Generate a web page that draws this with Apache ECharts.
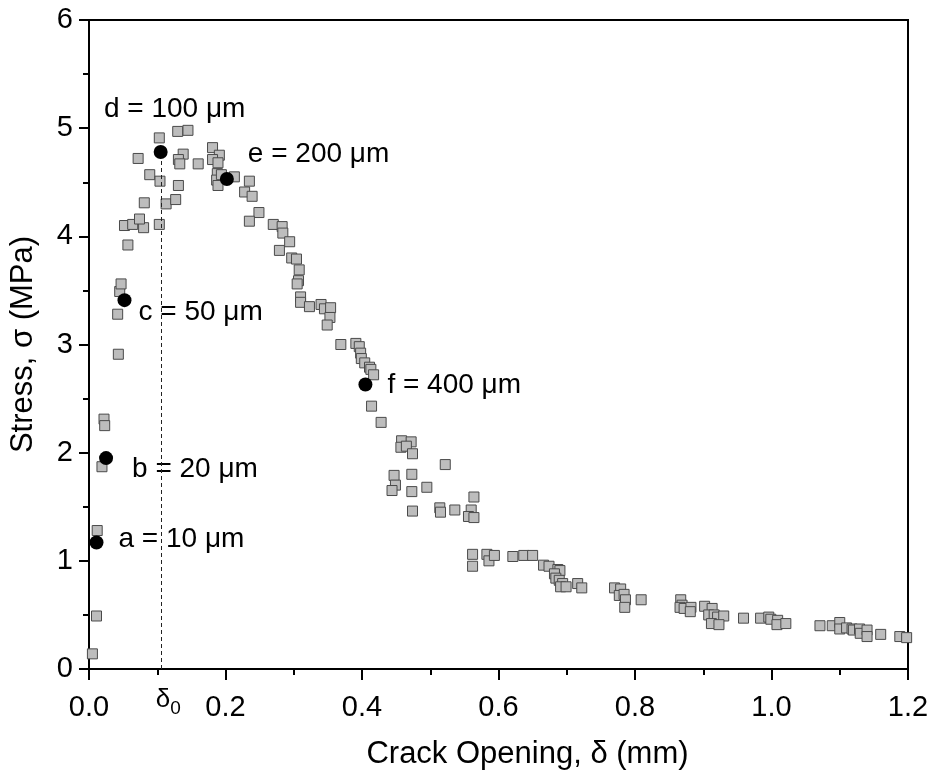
<!DOCTYPE html>
<html>
<head>
<meta charset="utf-8">
<title>Stress vs Crack Opening</title>
<script src="https://cdn.jsdelivr.net/npm/echarts@6/dist/echarts.min.js"></script>
<style>
  html, body { margin: 0; padding: 0; background: #fff; }
  #chart { width: 934px; height: 778px; }
</style>
</head>
<body>
<div id="chart"></div>
<script>
// Measured stress–crack opening response (grey squares)
const openingMm = [
  0.005, 0.011, 0.012, 0.019, 0.022, 0.023, 0.043, 0.042, 0.045, 0.047,
  0.057, 0.052, 0.064, 0.080, 0.074, 0.103, 0.081, 0.113, 0.127, 0.089,
  0.104, 0.131, 0.072, 0.103, 0.130, 0.145, 0.138, 0.131, 0.133, 0.160,
  0.181, 0.191, 0.181, 0.189, 0.188, 0.187, 0.189, 0.194, 0.213, 0.235,
  0.228, 0.239, 0.249, 0.235, 0.270, 0.283, 0.284, 0.294, 0.279, 0.297,
  0.304, 0.308, 0.307, 0.305, 0.310, 0.310, 0.323, 0.340, 0.345, 0.354,
  0.353, 0.349, 0.369, 0.391, 0.396, 0.398, 0.399, 0.404, 0.411, 0.413,
  0.417, 0.414, 0.428, 0.458, 0.472, 0.457, 0.465, 0.474, 0.522, 0.447,
  0.473, 0.449, 0.444, 0.473, 0.495, 0.564, 0.474, 0.514, 0.515, 0.536,
  0.560, 0.556, 0.564, 0.562, 0.562, 0.583, 0.586, 0.594, 0.621, 0.637,
  0.650, 0.666, 0.674, 0.687, 0.690, 0.682, 0.684, 0.689, 0.694, 0.691,
  0.699, 0.716, 0.722, 0.770, 0.779, 0.777, 0.784, 0.786, 0.785, 0.809,
  0.867, 0.869, 0.866, 0.872, 0.882, 0.881, 0.902, 0.913, 0.908, 0.916,
  0.921, 0.930, 0.912, 0.923, 0.959, 0.984, 0.996, 0.999, 1.009, 1.008,
  1.021, 1.071, 1.089, 1.100, 1.100, 1.110, 1.118, 1.120, 1.129, 1.130,
  1.140, 1.140, 1.160, 1.188, 1.198
];
const stressMPa = [
  0.14, 0.49, 1.28, 1.87, 2.31, 2.25, 2.91, 3.28, 3.49, 3.56,
  3.92, 4.10, 4.11, 4.08, 4.16, 4.11, 4.31, 4.30, 4.34, 4.57,
  4.51, 4.47, 4.72, 4.91, 4.97, 4.98, 4.76, 4.71, 4.67, 4.67,
  4.82, 4.75, 4.71, 4.68, 4.58, 4.52, 4.47, 4.57, 4.55, 4.51,
  4.41, 4.37, 4.22, 4.14, 4.11, 4.09, 4.03, 3.95, 3.87, 3.80,
  3.79, 3.69, 3.59, 3.56, 3.44, 3.39, 3.35, 3.37, 3.33, 3.34,
  3.25, 3.18, 3.00, 3.01, 2.98, 2.92, 2.87, 2.83, 2.79, 2.77,
  2.72, 2.43, 2.28, 2.11, 2.10, 2.05, 2.06, 1.99, 1.89, 1.79,
  1.80, 1.70, 1.65, 1.64, 1.68, 1.59, 1.46, 1.49, 1.45, 1.47,
  1.47, 1.41, 1.40, 1.06, 0.95, 1.06, 1.00, 1.05, 1.04, 1.05,
  1.05, 0.96, 0.95, 0.92, 0.91, 0.88, 0.84, 0.82, 0.79, 0.76,
  0.76, 0.79, 0.75, 0.75, 0.74, 0.68, 0.69, 0.64, 0.57, 0.64,
  0.64, 0.59, 0.57, 0.56, 0.57, 0.53, 0.58, 0.56, 0.50, 0.50,
  0.48, 0.49, 0.42, 0.41, 0.47, 0.47, 0.48, 0.46, 0.45, 0.41,
  0.42, 0.40, 0.40, 0.43, 0.37, 0.38, 0.37, 0.36, 0.37, 0.33,
  0.36, 0.30, 0.32, 0.30, 0.29
];

// Selected states a–f (black dots)
const stateNames = ['a = 10 \u03bcm', 'b = 20 \u03bcm', 'c = 50 \u03bcm',
                    'd = 100 \u03bcm', 'e = 200 \u03bcm', 'f = 400 \u03bcm'];
const stateOpening = [0.011, 0.025, 0.052, 0.105, 0.202, 0.405];
const stateStress  = [1.17, 1.95, 3.41, 4.78, 4.53, 2.63];

// Opening at peak stress, δ0
const delta0 = 0.106;

const X_TICKS = { min: 0, max: 1.2, interval: 0.2 };
const Y_TICKS = { min: 0, max: 6, interval: 1 };

const FONT = "'Liberation Sans', Arial, Helvetica, sans-serif";

// label offsets (px) relative to each dot's centre
const labelOffsets = [[22, -3], [26, 11], [14, 12], [14, -43], [21, -25], [22, 1]];

const chart = echarts.init(document.getElementById('chart'), null, { renderer: 'canvas' });

const squares = openingMm.map((x, i) => [x, stressMPa[i]]);
const states = stateOpening.map((x, i) => ({
  value: [x, stateStress[i]],
  label: {
    show: true,
    formatter: stateNames[i],
    position: 'inside',
    align: i === 3 ? 'center' : 'left',
    verticalAlign: 'middle',
    offset: labelOffsets[i],
    fontFamily: FONT,
    fontSize: 28,
    color: '#000',
    textBorderWidth: 0
  }
}));

chart.setOption({
  animation: false,
  backgroundColor: '#fff',
  grid: {
    left: 88, right: 26, top: 20, bottom: 109,
    show: true, borderColor: '#000', borderWidth: 2, backgroundColor: 'transparent'
  },
  xAxis: {
    type: 'value',
    min: X_TICKS.min, max: X_TICKS.max, interval: X_TICKS.interval,
    name: 'Crack Opening, \u03b4 (mm)',
    nameLocation: 'middle',
    nameGap: 70,
    nameTextStyle: { fontFamily: FONT, fontSize: 31, color: '#000', padding: [0, 0, 0, 58] },
    axisLine: { show: true, onZero: false, lineStyle: { color: '#000', width: 2 } },
    axisTick: { show: true, inside: false, length: 11, lineStyle: { color: '#000', width: 2 } },
    minorTick: { show: true, splitNumber: 2, length: 6, lineStyle: { color: '#000', width: 2 } },
    axisLabel: {
      margin: 24, fontFamily: FONT, fontSize: 29, color: '#000',
      formatter: v => v.toFixed(1)
    },
    splitLine: { show: false },
    minorSplitLine: { show: false }
  },
  yAxis: {
    type: 'value',
    min: Y_TICKS.min, max: Y_TICKS.max, interval: Y_TICKS.interval,
    name: 'Stress, \u03c3 (MPa)',
    nameLocation: 'middle',
    nameGap: 50,
    nameTextStyle: { fontFamily: FONT, fontSize: 31, color: '#000' },
    axisLine: { show: true, onZero: false, lineStyle: { color: '#000', width: 2 } },
    axisTick: { show: true, inside: false, length: 10, lineStyle: { color: '#000', width: 2 } },
    minorTick: { show: true, splitNumber: 2, length: 6, lineStyle: { color: '#000', width: 2 } },
    axisLabel: { margin: 16, fontFamily: FONT, fontSize: 29, color: '#000' },
    splitLine: { show: false },
    minorSplitLine: { show: false }
  },
  series: [
    {
      name: 'measured',
      type: 'scatter',
      symbol: 'rect',
      symbolSize: 10,
      data: squares,
      itemStyle: { color: '#bdbdbd', borderColor: '#4a4a4a', borderWidth: 1, opacity: 1 },
      z: 2
    },
    {
      name: 'states',
      type: 'scatter',
      symbol: 'circle',
      symbolSize: 14,
      data: states,
      itemStyle: { color: '#000', opacity: 1 },
      z: 3,
      markLine: {
        silent: true,
        symbol: ['none', 'none'],
        lineStyle: { type: [4, 3], color: '#222', width: 1, opacity: 1 },
        label: {
          show: true,
          position: 'start',
          distance: 12,
          padding: [0, 0, 0, 14],
          formatter: '{d|\u03b4}{s|0}',
          rich: {
            d: { fontFamily: FONT, fontSize: 26, color: '#000' },
            s: { fontFamily: FONT, fontSize: 19, color: '#000', padding: [18, 0, 0, 0] }
          }
        },
        data: [[
          { coord: [delta0, 0] },
          { coord: [delta0, stateStress[3] - 0.06] }
        ]]
      }
    }
  ]
});
</script>
</body>
</html>
